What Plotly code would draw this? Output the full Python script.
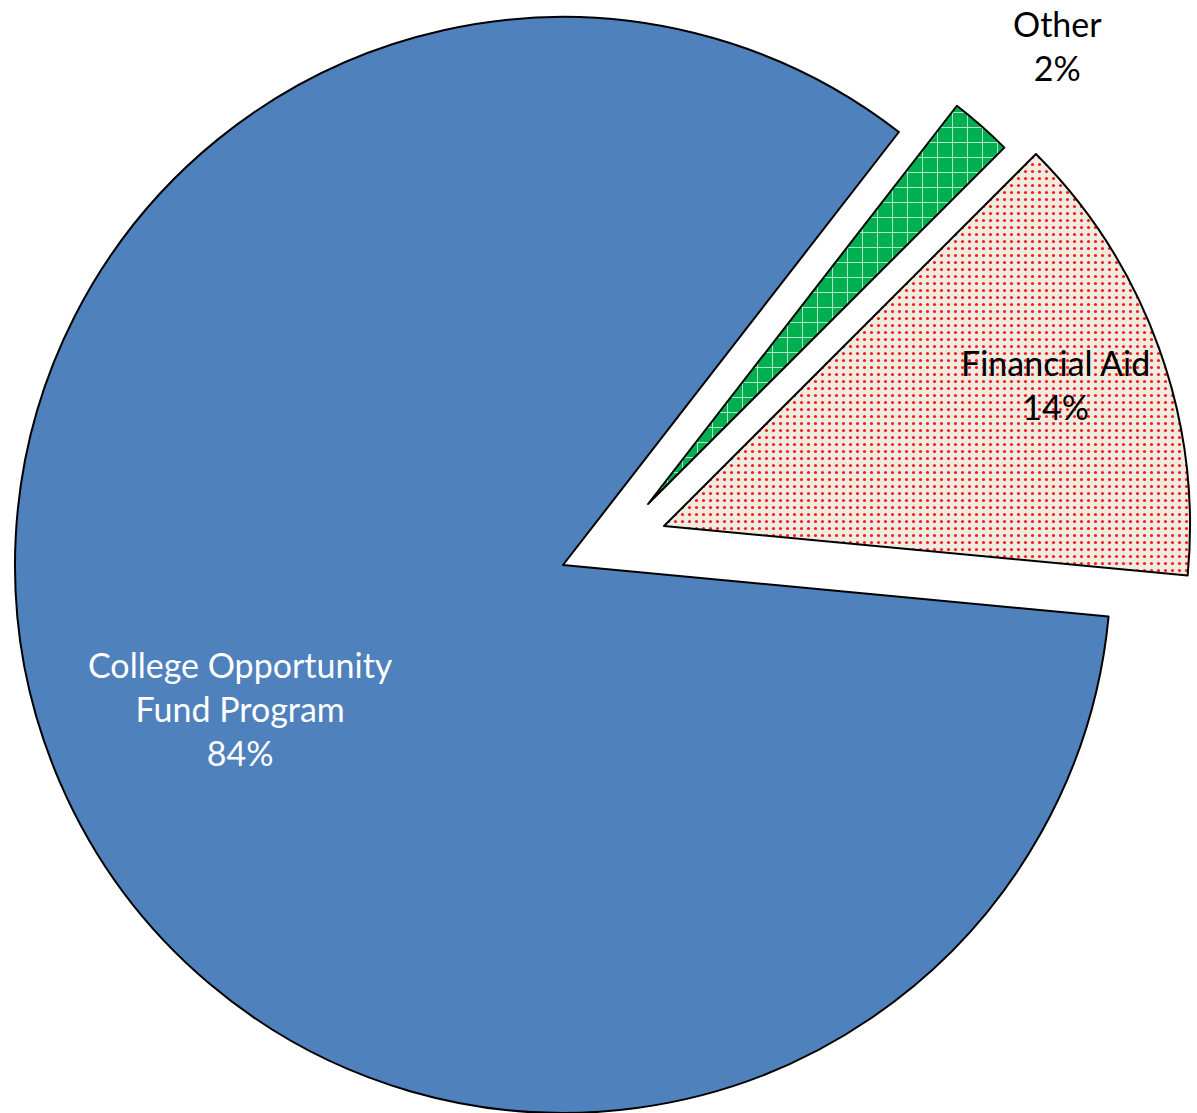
import plotly.graph_objects as go

# Funding sources and their shares of the total (percent)
labels = ["Other", "Financial Aid", "College Opportunity Fund Program"]
shares = [2, 14, 84]
label_text = ["Other", "Financial Aid", "College Opportunity<br>Fund Program"]

W, H = 1197, 1113

# Slice styling, in the same order as the labels
fill_colors = ["#00B050", "#EEECE1", "#4F81BD"]
pattern_shapes = ["+", ".", ""]
pattern_fg = ["rgba(255,255,255,0.75)", "#FF1A1A", "#4F81BD"]
pattern_size = [15, 7, 8]
pattern_solidity = [0.12, 0.16, 0.3]

# Every slice is drawn by its own pie trace so the two small slices can sit
# apart from the main body: centre (px from left, px from top) and radius in px.
placement = {
    "College Opportunity Fund Program": (563, 565, 548),
    "Financial Aid": (664, 526, 526),
    "Other": (648, 504, 504),
}

fig = go.Figure()
for k, name in enumerate(labels):
    cx, cy, r = placement[name]
    dom_x = [max(0.0, (cx - r) / W), min(1.0, (cx + r) / W)]
    dom_y = [max(0.0, (H - cy - r) / H), min(1.0, (H - cy + r) / H)]
    show = [i == k for i in range(len(labels))]
    fig.add_trace(go.Pie(
        labels=labels,
        values=shares,
        sort=False,
        direction="clockwise",
        rotation=37.8,
        domain=dict(x=dom_x, y=dom_y),
        textinfo="none",
        hoverinfo="skip",
        showlegend=False,
        marker=dict(
            colors=[fill_colors[i] if show[i] else "rgba(0,0,0,0)" for i in range(len(labels))],
            line=dict(color="black", width=[2 if s else 0 for s in show]),
            pattern=dict(
                shape=[pattern_shapes[i] if show[i] else "" for i in range(len(labels))],
                fgcolor=pattern_fg,
                bgcolor=[fill_colors[i] if show[i] else "rgba(0,0,0,0)" for i in range(len(labels))],
                size=pattern_size,
                solidity=pattern_solidity,
                fillmode="replace",
            ),
        ),
    ))

# Slice labels: name and share
label_pos = {
    "Other": (1057, 45, "black"),
    "Financial Aid": (1055, 385, "black"),
    "College Opportunity Fund Program": (240, 708, "white"),
}
for name, txt, val in zip(labels, label_text, shares):
    x, y, col = label_pos[name]
    fig.add_annotation(
        x=x / W, y=1 - y / H, xref="paper", yref="paper",
        text=f"{txt}<br>{val}%", showarrow=False,
        font=dict(family="Lato", size=34, color=col),
        xanchor="center", yanchor="middle", align="center",
    )

fig.update_layout(
    width=W, height=H,
    margin=dict(l=0, r=0, t=0, b=0),
    paper_bgcolor="white",
    plot_bgcolor="white",
)

fig.write_html("out.html")
